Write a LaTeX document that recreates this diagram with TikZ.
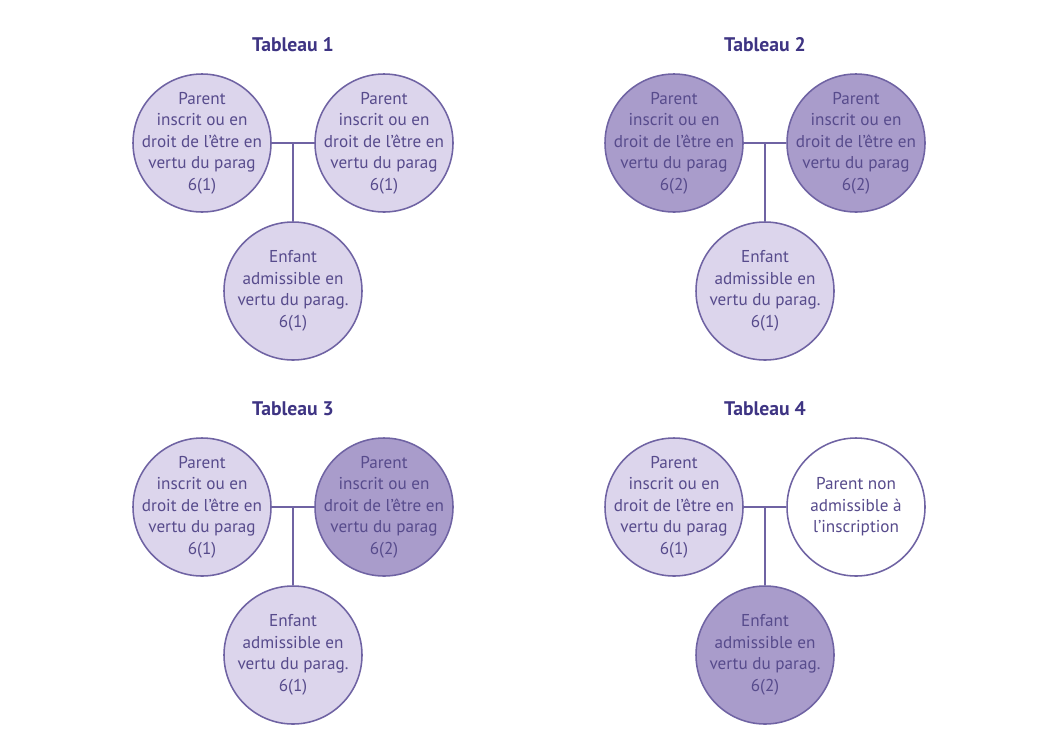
\documentclass[tikz,border=0pt]{standalone}
\usepackage{fontspec}
\setmainfont{PT Sans}
\usetikzlibrary{positioning}

\definecolor{lilaclight}{HTML}{DCD5EC}
\definecolor{lilacdark}{HTML}{A99CCB}
\definecolor{lilacline}{HTML}{6F63A3}
\definecolor{lilactext}{HTML}{574B8C}
\definecolor{lilactitle}{HTML}{3E3483}

\newcommand{\parenttext}[1]{Parent\\inscrit ou en\\droit de l’être en\\vertu du parag\\6(#1)}
\newcommand{\childtext}[1]{Enfant\\admissible en\\vertu du parag.\\6(#1)}
\newcommand{\nontext}{Parent non\\admissible à\\l’inscription}

\begin{document}
\begin{tikzpicture}[x=0.25mm, y=-0.25mm,
    person/.style={circle, draw=lilacline, line width=1.1pt, minimum size=34.5mm,
      inner sep=-4.5mm, align=center, text=lilactext,
      font=\fontsize{12.2}{15.3}\selectfont},
    light/.style={person, fill=lilaclight},
    dark/.style={person, fill=lilacdark},
    blank/.style={person, fill=white},
    heading/.style={text=lilactitle, font=\fontsize{14}{16}\selectfont\bfseries},
    link/.style={draw=lilacline, line width=0.9pt}]
    \useasboundingbox [fill=white] (0,0) rectangle (1039,740) ;

    % one family per table: number / centre / left, right, child
    \foreach \n/\cx/\cy/\sl/\nl/\sr/\tr/\se/\ne in {
        1/293/143/light/1/light/{\parenttext{1}}/light/1,
        2/765/143/dark/2/dark/{\parenttext{2}}/light/1,
        3/293/507/light/1/dark/{\parenttext{2}}/light/1,
        4/765/507/light/1/blank/{\nontext}/dark/2} {
      \coordinate (join\n) at (\cx,\cy) ;
      \node [heading] (title\n) at (\cx,\cy-98) {Tableau \n} ;
      \node [\sl] (left\n) at (\cx-91,\cy) {\parenttext{\nl}} ;
      \node [\sr] (right\n) at (\cx+91,\cy) {\tr} ;
      \node [\se] (child\n) at (\cx,\cy+148) {\childtext{\ne}} ;
      \draw [link] (left\n) -- (right\n) ;
      \draw [link] (join\n) -- (child\n) ;
    }

\end{tikzpicture}
\end{document}
